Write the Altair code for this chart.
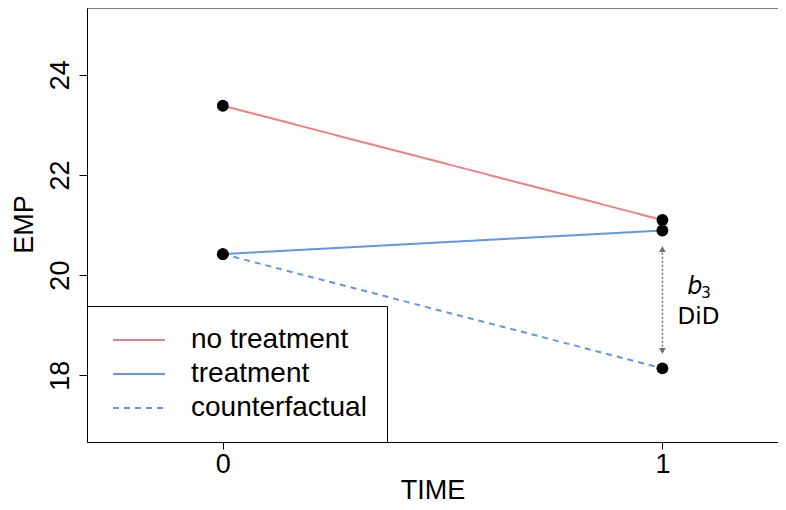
import altair as alt
import pandas as pd

# ---- data ----
time = [0, 1]
no_treatment = [23.38, 21.10]
treatment = [20.42, 20.89]
counterfactual = [20.42, 18.14]
series_names = ["no treatment", "treatment", "counterfactual"]
series_colors = ["lightcoral", "cornflowerblue", "cornflowerblue"]
series_dash = [[1, 0], [1, 0], [6, 5]]
x_ticks = [0, 1]
y_ticks = [18, 20, 22, 24]
arrow_y = [18.42, 20.59]

rows = []
for name, vals in zip(series_names, [no_treatment, treatment, counterfactual]):
    for t, v in zip(time, vals):
        rows.append({"time": t, "value": v, "series": name})
df = pd.DataFrame(rows)

XDOM = [-0.309, 1.263]
YDOM = [16.67, 25.33]
FONT = "Liberation Sans"

xs = alt.Scale(domain=XDOM, nice=False, zero=False)
ys = alt.Scale(domain=YDOM, nice=False, zero=False)

x_axis = alt.Axis(values=x_ticks, title="TIME", grid=False, labelFont=FONT, labelFontSize=27,
                  titleFont=FONT, titleFontSize=27, titleFontWeight="normal", tickSize=7,
                  labelPadding=2, titleY=56, titleBaseline="alphabetic", titleAlign="center",
                  domainColor="black", tickColor="black",
                  labelColor="black", titleColor="black", format="d")
y_axis = alt.Axis(values=y_ticks, title="EMP", grid=False, labelFont=FONT, labelFontSize=27,
                  labelAngle=-90, labelAlign="center", labelBaseline="alphabetic", labelPadding=11,
                  titleFont=FONT, titleFontSize=27, titleFontWeight="normal", tickSize=8,
                  titleX=-63, titleY=216, titleAngle=-90, titleBaseline="middle", titleAlign="center",
                  domainColor="black", tickColor="black", labelColor="black", titleColor="black",
                  format="d")

X = lambda f: alt.X(f, scale=xs, axis=x_axis, title="TIME")
Y = lambda f: alt.Y(f, scale=ys, axis=y_axis, title="EMP")

lines = alt.Chart(df).mark_line(strokeWidth=2).encode(
    x=X("time:Q"),
    y=Y("value:Q"),
    color=alt.Color("series:N", scale=alt.Scale(domain=series_names, range=series_colors),
                    sort=series_names, title=None),
    strokeDash=alt.StrokeDash("series:N", scale=alt.Scale(domain=series_names, range=series_dash),
                              sort=series_names, title=None),
    detail="series:N",
)

points = alt.Chart(df).mark_circle(size=140, color="black", opacity=1).encode(
    x=X("time:Q"),
    y=Y("value:Q"),
)

arrow_df = pd.DataFrame({"time": [1], "y1": [arrow_y[0] + 0.07], "y2": [arrow_y[1] - 0.07]})
arrow = alt.Chart(arrow_df).mark_rule(color="#6e6e6e", strokeWidth=1.5, strokeDash=[2, 2]).encode(
    x=X("time:Q"),
    y=Y("y1:Q"),
    y2="y2:Q",
)
head_up = alt.Chart(arrow_df).mark_point(shape="triangle-up", filled=True, size=45,
                                         color="#6e6e6e", opacity=1).encode(
    x=X("time:Q"),
    y=Y("y2:Q"),
)
head_down = alt.Chart(arrow_df).mark_point(shape="triangle-down", filled=True, size=45,
                                           color="#6e6e6e", opacity=1).encode(
    x=X("time:Q"),
    y=Y("y1:Q"),
)

one = pd.DataFrame({"a": [0]})
b_txt = alt.Chart(one).mark_text(text="b", font="DejaVu Sans", fontSize=24, fontStyle="italic",
                                 baseline="alphabetic", align="center", color="black").encode(
    x=alt.datum(1.074, scale=xs, axis=x_axis), y=alt.datum(19.63, scale=ys, axis=y_axis))
sub_txt = alt.Chart(one).mark_text(text="3", font="DejaVu Sans", fontSize=15,
                                   baseline="alphabetic", align="center", color="black").encode(
    x=alt.datum(1.099, scale=xs, axis=x_axis), y=alt.datum(19.54, scale=ys, axis=y_axis))
did_txt = alt.Chart(one).mark_text(text="DiD", font="DejaVu Sans", fontSize=23,
                                   baseline="alphabetic", align="center", color="black").encode(
    x=alt.datum(1.082, scale=xs, axis=x_axis), y=alt.datum(19.03, scale=ys, axis=y_axis))

top_frame = alt.Chart(one).mark_rule(color="black", strokeWidth=1).encode(
    x=alt.value(0), x2=alt.value(700), y=alt.value(0))

chart = alt.layer(lines, points, arrow, head_up, head_down, b_txt, sub_txt, did_txt, top_frame).properties(
    width=691, height=434,
    autosize=alt.AutoSizeParams(type="none"),
    padding={"left": 79, "top": 0, "right": 0, "bottom": 62},
).configure_view(stroke=None).configure_legend(
    orient="none", legendX=0, legendY=298, padding=20, rowPadding=6,
    labelFont=FONT, labelFontSize=28, labelColor="black", labelLimit=400,
    symbolType="M-2,0H2", symbolSize=676, symbolStrokeWidth=2, symbolOffset=18, labelOffset=38,
    strokeColor="black", fillColor="white", cornerRadius=0,
)

chart.save("out.html", embed_options={"renderer": "svg", "actions": False})
